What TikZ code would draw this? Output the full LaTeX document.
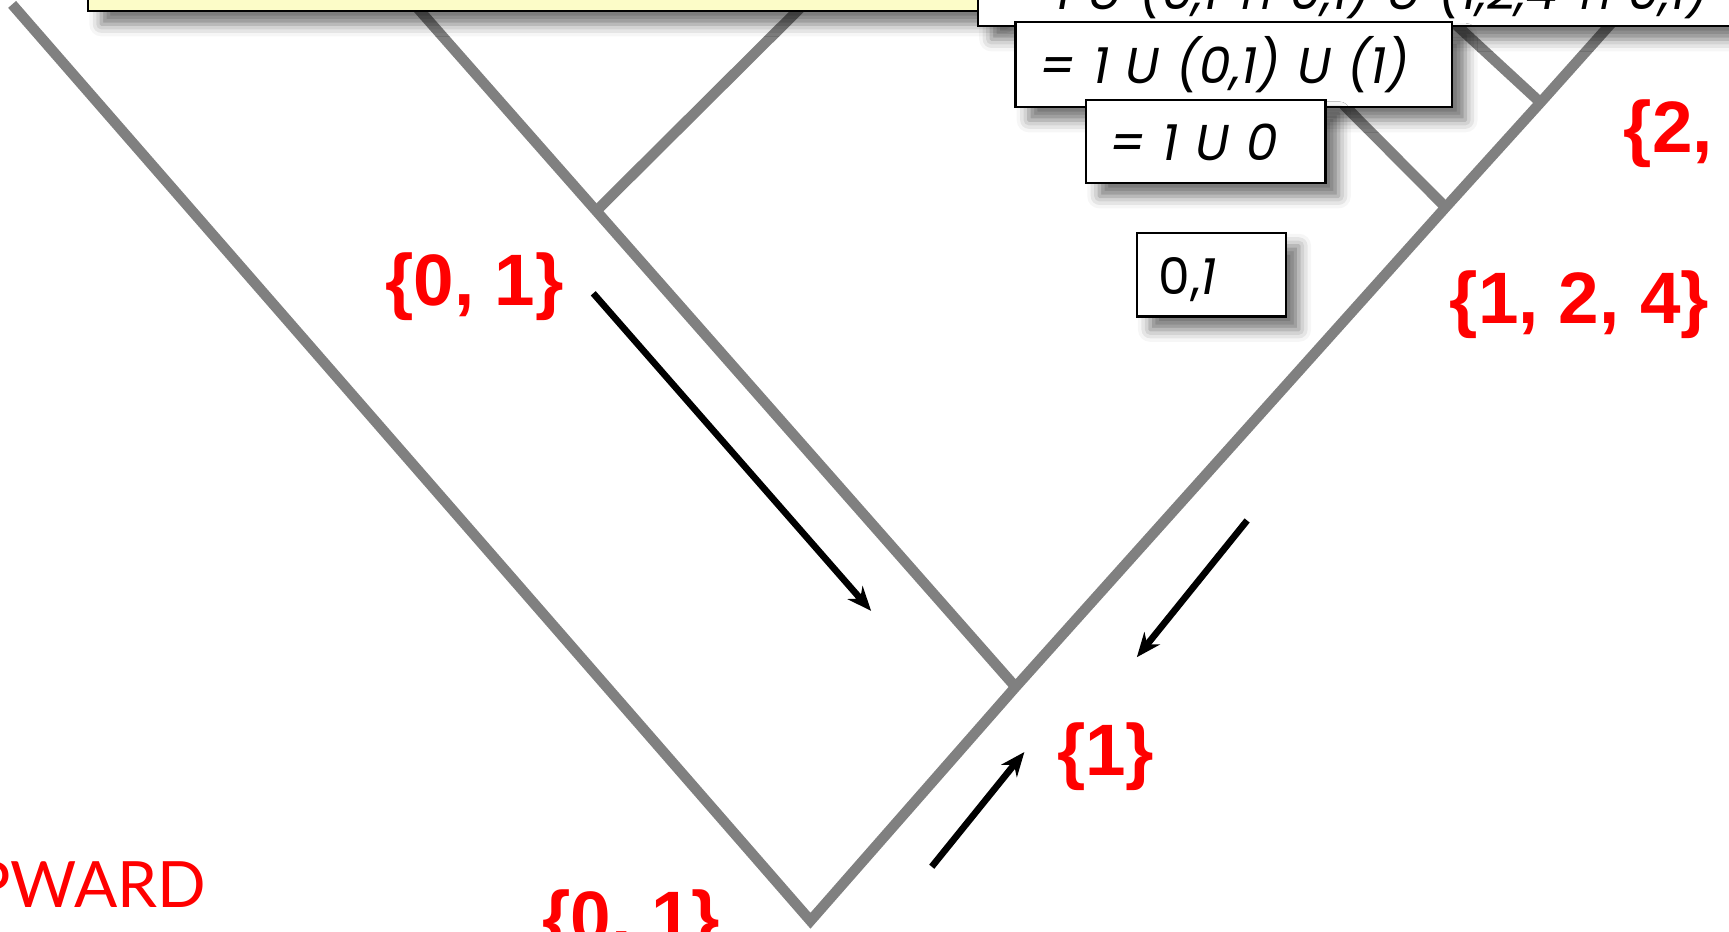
\documentclass[tikz,border=0pt]{standalone}
\usepackage{fontspec}
\setmainfont{Liberation Sans}
\newfontfamily\boxfont{Poppins}
\newfontfamily\labelfont{Liberation Sans}
\newfontfamily\notefont{Lato}
\newfontfamily\capfont[FakeSlant=0.2]{DejaVu Sans}
\usetikzlibrary{arrows.meta,shadows.blur}

\definecolor{notefill}{RGB}{252,252,200}

\tikzset{
  branch/.style={draw=gray, line width=0.95mm},
  flow/.style={draw=black, line width=0.6mm, -{Stealth[length=2.2mm,width=1.8mm]}},
  setlabel/.style={text=red, font=\labelfont\bfseries\fontsize{18.8}{20}\selectfont, inner sep=0pt},
  notelabel/.style={text=red, font=\notefont\fontsize{16.5}{18}\selectfont, inner sep=0pt},
  boxshadow/.style={blur shadow={shadow xshift=1.2mm, shadow yshift=-1.2mm, shadow blur radius=1.1mm, shadow opacity=55}},
  eqbox/.style={draw=black, line width=0.2mm, fill=white, boxshadow, inner ysep=0pt,
    align=left, anchor=base west, font=\boxfont\itshape\fontsize{13}{15}\selectfont},
}

\begin{document}
\begin{tikzpicture}[x=0.1mm,y=-0.1mm]
    \useasboundingbox (0,0) rectangle (1568,845);

    % tree
    \coordinate (tl) at (11,4);
    \coordinate (root) at (735,835);
    \coordinate (tr) at (1464,18);
    \coordinate (t2) at (374,2);
    \coordinate (jl) at (542,190);
    \coordinate (t3) at (727,6);
    \coordinate (jr1) at (921,623);
    \coordinate (jr2) at (1311,188);
    \coordinate (t4) at (1144,20);
    \coordinate (jr3) at (1397,93);
    \coordinate (t5) at (1320,22);
    \draw[branch, line join=miter] (tl) -- (root) -- (jr1) -- (jr2) -- (jr3) -- (tr);
    \draw[branch] (t2) -- (jr1);
    \draw[branch] (jl) -- (t3);
    \draw[branch] (jr2) -- (t4);
    \draw[branch] (jr3) -- (t5);

    % boxes
    \path[draw=black, line width=0.2mm, fill=notefill, boxshadow] (80,-100) rectangle (900,10);
    \node[eqbox, text width=80mm, inner xsep=2.2mm, text height=8mm, text depth=1.46mm] (eqtop) at (886,9)
        {= 1 U (0,1 {\capfont ∩} 0,1) U (1,2,4 {\capfont ∩} 0,1)};
    \node[eqbox, text width=35.2mm, inner xsep=2.2mm, text height=5.56mm, text depth=2.14mm] (eqa) at (920,75.6)
        {= 1 U (0,1) U (1)};
    \node[eqbox, text width=17.5mm, inner xsep=2.1mm, text height=5.5mm, text depth=2.0mm] (eqb) at (984,146)
        {= 1 U 0};
    \node[eqbox, text width=9.5mm, inner xsep=2.0mm, text height=5.6mm, text depth=2.0mm] (eqc) at (1030,267)
        {{\upshape 0,}1};

    % flow arrows
    \coordinate (a1s) at (538,266);
    \coordinate (a1e) at (790,554);
    \coordinate (a2s) at (1131,472);
    \coordinate (a2e) at (1031,596);
    \coordinate (a3s) at (845,786);
    \coordinate (a3e) at (929,682);
    \draw[flow] (a1s) -- (a1e);
    \draw[flow] (a2s) -- (a2e);
    \draw[flow] (a3s) -- (a3e);

    % sets
    \node[setlabel, anchor=base west] (s01) at (349,277) {\{0, 1\}};
    \node[setlabel, anchor=base west] (s124) at (1314,293) {\{1, 2, 4\}};
    \node[setlabel, anchor=base west] (s1) at (958,703) {\{1\}};
    \node[setlabel, anchor=base west] (s2) at (1472,138) {\{2,};
    \node[setlabel, anchor=base west] (s01b) at (491,855) {\{0, 1\}};
    \node[notelabel, anchor=base west] (upward) at (-26,823) {PWARD};
\end{tikzpicture}
\end{document}
